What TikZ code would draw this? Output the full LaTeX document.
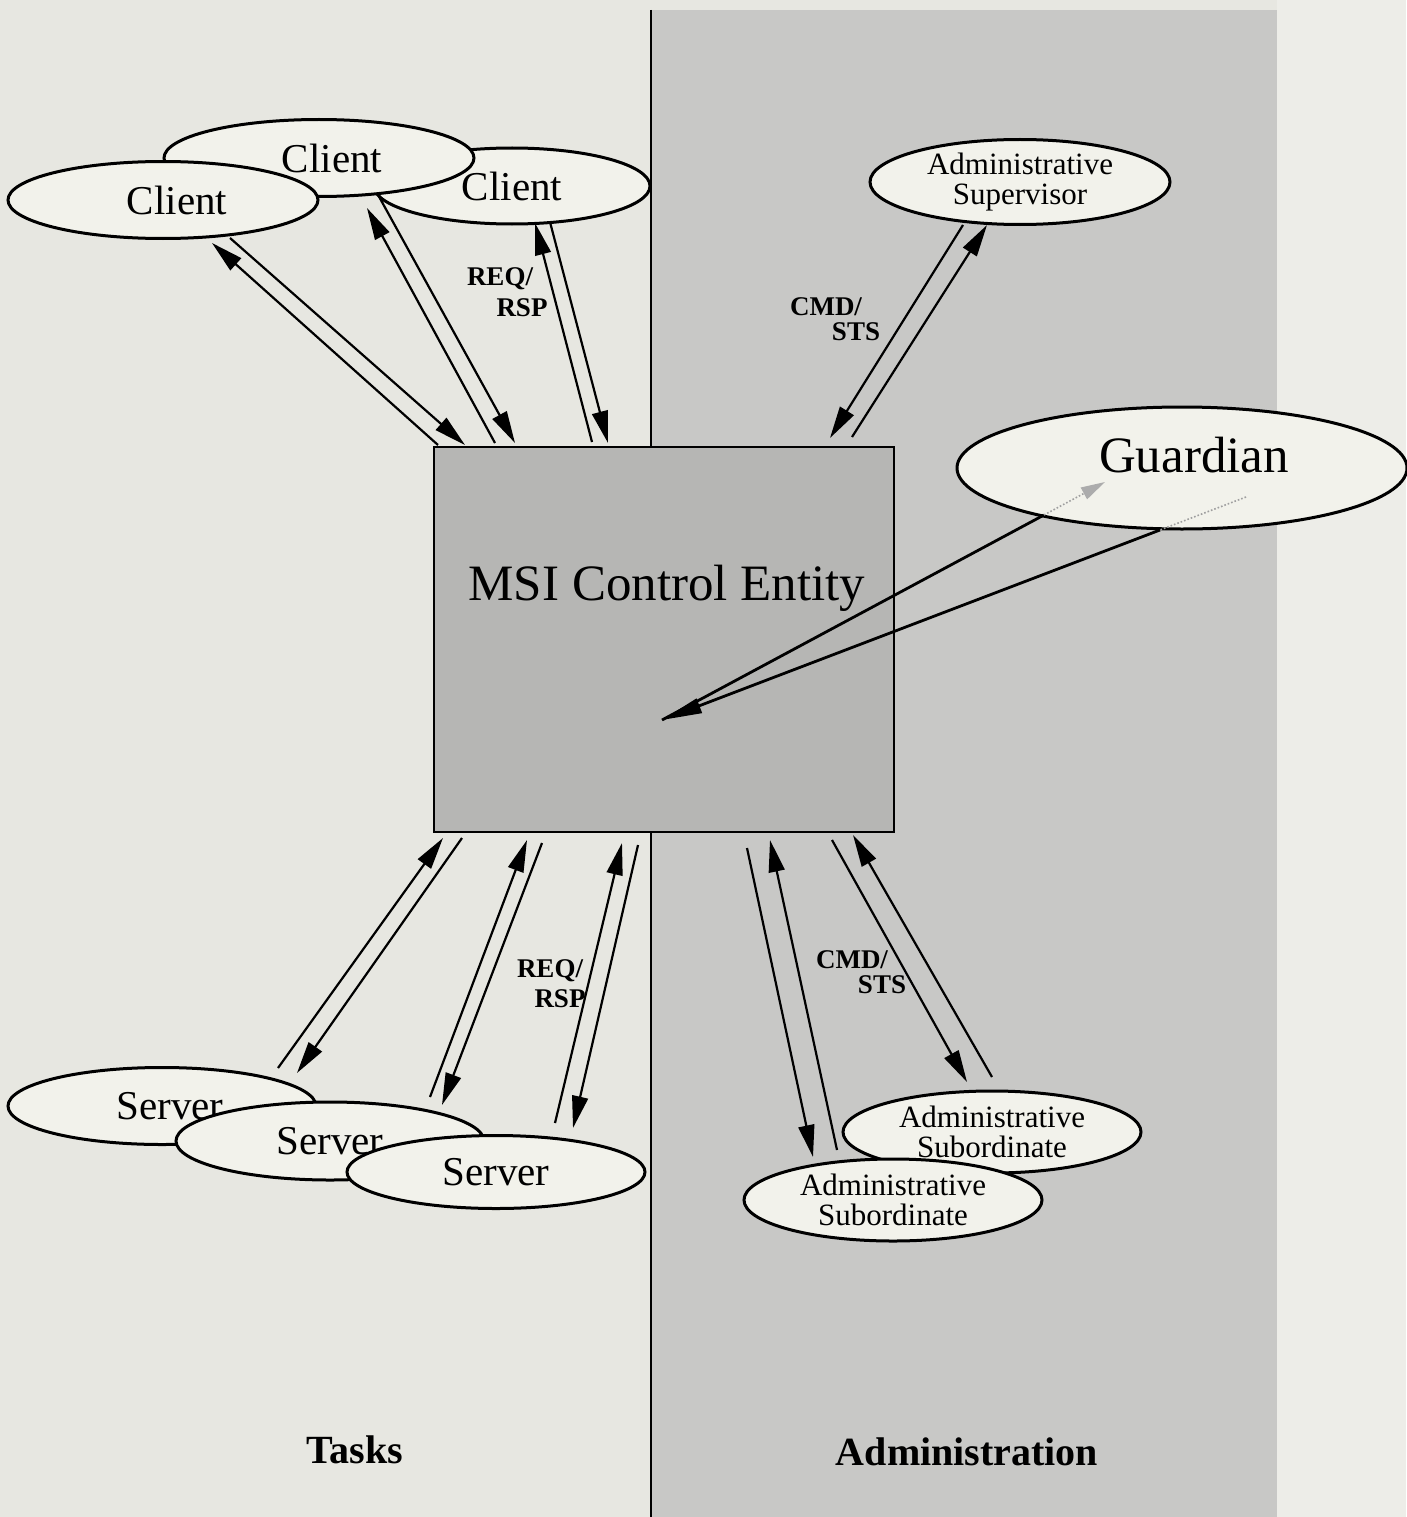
\documentclass[tikz,border=0pt]{standalone}
\usepackage{fontspec}
\setmainfont{Liberation Serif}
\usetikzlibrary{shapes.geometric,arrows.meta}
\definecolor{bgl}{RGB}{231,231,225}
\definecolor{bgr}{RGB}{237,237,232}
\definecolor{admc}{RGB}{200,200,198}
\definecolor{boxc}{RGB}{182,182,180}
\definecolor{ellc}{RGB}{242,242,235}
\newcommand\myfs[2]{\fontsize{#1pt}{#2pt}\selectfont}
\begin{document}
\begin{tikzpicture}[x=1pt,y=-1pt,
  ell/.style={ellipse, draw=black, line width=3pt, fill=ellc, inner sep=0pt, align=center},
  conn/.style={line width=2.2pt, -{Triangle[length=32pt,width=16pt]}},
  plainline/.style={line width=2.8pt},
  hidden/.style={gray!75, dotted, line width=1.6pt},
  lbl/.style={font=\bfseries\myfs{27}{27}, inner sep=0pt},
  big/.style={font=\myfs{41}{41}},
  huge/.style={font=\myfs{51}{51}, inner sep=0pt},
  small/.style={font=\myfs{31}{30}},
  region/.style={font=\bfseries\myfs{40}{40}, inner sep=0pt}]
\useasboundingbox (0,0) rectangle (1406,1517);
% backgrounds
\fill[bgl] (0,0) rectangle (1406,1517);
\fill[bgr] (1277,0) rectangle (1406,1517);
\fill[admc] (651,10) rectangle (1277,1517);
\draw[line width=2.4pt] (651,10) -- (651,1517);

% control entity box
\node[draw=black, line width=2.4pt, fill=boxc, minimum width=460pt, minimum height=385pt,
      inner sep=0pt, anchor=north west] (msi) at (433,446) {};
\node[huge] (msit) at (667,588) {MSI Control Entity};

% clients
\node[ell, big, minimum width=276pt, minimum height=76pt] (cl3) at (512,186) {Client};
\node[ell, big, minimum width=310pt, minimum height=77pt] (cl2) at (319,158) {\hspace*{26pt}Client};
\node[ell, big, minimum width=310pt, minimum height=77pt] (cl1) at (163,200) {\hspace*{28pt}Client};

% servers
\node[ell, big, minimum width=308pt, minimum height=77pt] (sv1) at (162,1106) {\hspace*{16pt}Server};
\node[ell, big, minimum width=308pt, minimum height=78pt] (sv2) at (330,1141) {Server};
\node[ell, big, minimum width=298pt, minimum height=73pt] (sv3) at (496,1172) {Server};

% administration side
\node[ell, small, minimum width=300pt, minimum height=85pt] (sup) at (1020,182) {Administrative\\Supervisor};
\node[ell, minimum width=450pt, minimum height=122pt] (guard) at (1182,468) {};
\node[huge] (guardt) at (1194,455) {Guardian};
\node[ell, small, minimum width=298pt, minimum height=82pt] (sub1) at (992,1132) {Administrative\\Subordinate};
\node[ell, small, minimum width=298pt, minimum height=82pt] (sub2) at (893,1200) {Administrative\\Subordinate};

% region titles
\node[region] (tasks) at (355,1450) {Tasks};
\node[region] (admin) at (967,1452) {Administration};

% labels
\node[lbl] (req1) at (500,279) {REQ/};
\node[lbl] (rsp1) at (522,308) {RSP};
\node[lbl] (cmd1) at (826,307) {CMD/};
\node[lbl] (sts1) at (856,332) {STS};
\node[lbl] (req2) at (550,971) {REQ/};
\node[lbl] (rsp2) at (560,999) {RSP};
\node[lbl] (cmd2) at (852,960) {CMD/};
\node[lbl] (sts2) at (882,985) {STS};

% connector end points
\coordinate (a1s) at (438,445); \coordinate (a1e) at (212,243);
\coordinate (a2s) at (230,238); \coordinate (a2e) at (465,445);
\coordinate (b1s) at (495,443); \coordinate (b1e) at (367,208);
\coordinate (b2s) at (377,193); \coordinate (b2e) at (515,443);
\coordinate (c1s) at (592,442); \coordinate (c1e) at (535,223);
\coordinate (c2s) at (550,222); \coordinate (c2e) at (608,443);
\coordinate (d1s) at (278,1068); \coordinate (d1e) at (443,838);
\coordinate (d2s) at (462,838); \coordinate (d2e) at (297,1073);
\coordinate (e1s) at (430,1097); \coordinate (e1e) at (527,840);
\coordinate (e2s) at (542,843); \coordinate (e2e) at (442,1105);
\coordinate (f1s) at (555,1123); \coordinate (f1e) at (622,843);
\coordinate (f2s) at (638,845); \coordinate (f2e) at (573,1128);
\coordinate (g1s) at (963,225); \coordinate (g1e) at (830,438);
\coordinate (g2s) at (852,437); \coordinate (g2e) at (987,225);
\coordinate (i1s) at (747,848); \coordinate (i1e) at (813,1157);
\coordinate (i2s) at (837,1150); \coordinate (i2e) at (770,840);
\coordinate (j1s) at (832,840); \coordinate (j1e) at (967,1082);
\coordinate (j2s) at (992,1077); \coordinate (j2e) at (853,835);
\coordinate (hb) at (662,720);
\coordinate (h1g) at (1044,515); \coordinate (h1e) at (1105,482);
\coordinate (h2s) at (1246,497); \coordinate (h2g) at (1160,530);

% client connectors
\draw[conn] (a1s) -- (a1e);
\draw[conn] (a2s) -- (a2e);
\draw[conn] (b1s) -- (b1e);
\draw[conn] (b2s) -- (b2e);
\draw[conn] (c1s) -- (c1e);
\draw[conn] (c2s) -- (c2e);
% server connectors
\draw[conn] (d1s) -- (d1e);
\draw[conn] (d2s) -- (d2e);
\draw[conn] (e1s) -- (e1e);
\draw[conn] (e2s) -- (e2e);
\draw[conn] (f1s) -- (f1e);
\draw[conn] (f2s) -- (f2e);
% supervisor connectors
\draw[conn] (g1s) -- (g1e);
\draw[conn] (g2s) -- (g2e);
% subordinate connectors
\draw[conn] (i1s) -- (i1e);
\draw[conn] (i2s) -- (i2e);
\draw[conn] (j1s) -- (j1e);
\draw[conn] (j2s) -- (j2e);
% guardian connectors
\draw[plainline] (hb) -- (h1g);
\draw[hidden, -{Triangle[length=24pt,width=13pt,color=gray!65]}] (h1g) -- (h1e);
\draw[hidden] (h2s) -- (h2g);
\draw[line width=2.8pt, -{Triangle[length=40pt,width=15pt]}] (h2g) -- (hb);
\end{tikzpicture}
\end{document}
